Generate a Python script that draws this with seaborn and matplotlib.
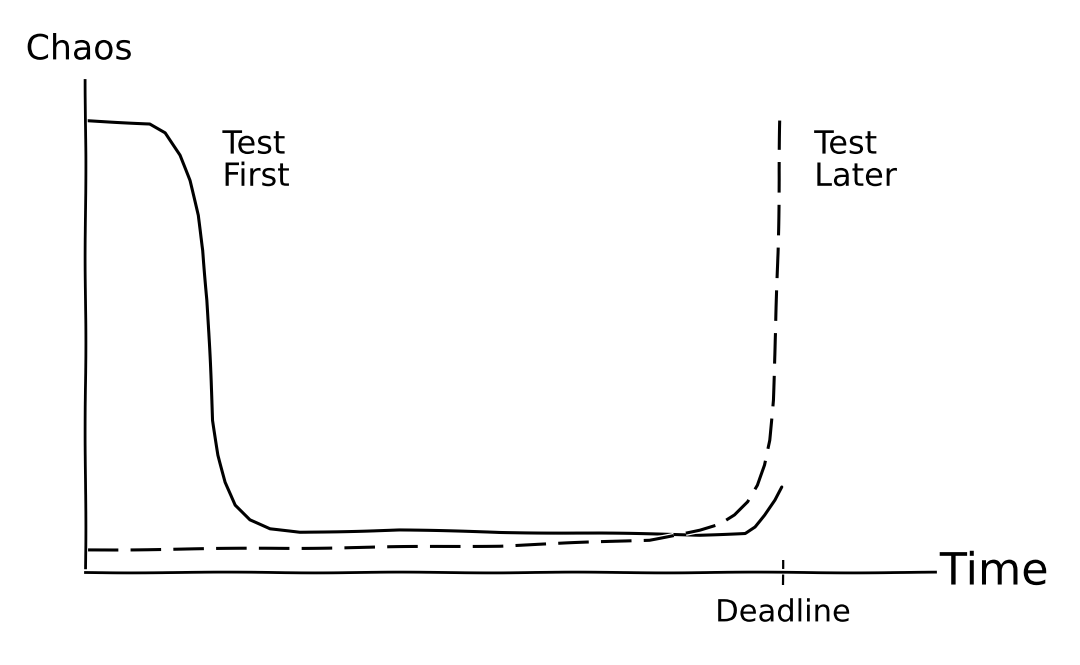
import numpy as np
import pandas as pd
import seaborn as sns
import matplotlib.pyplot as plt

# values (time in arbitrary units, deadline = 10)
first_t = [0.0, 0.93, 1.15, 1.36, 1.50, 1.62, 1.69, 1.75, 1.79, 1.83, 1.91, 2.01, 2.15, 2.36, 2.65,
           3.08, 4.51, 5.95, 7.38, 8.81, 9.46, 9.60, 9.74, 9.89, 9.99]
first_chaos = [10.0, 9.93, 9.73, 9.23, 8.67, 7.90, 7.12, 6.02, 4.69, 3.36, 2.59, 1.99, 1.48, 1.15, 0.95,
               0.88, 0.93, 0.88, 0.86, 0.82, 0.86, 1.0, 1.26, 1.59, 1.88]

later_t = [0.04, 3.08, 5.95, 8.09, 8.81, 9.10, 9.31, 9.50, 9.64, 9.74, 9.81, 9.86, 9.90, 9.93, 9.96]
later_chaos = [0.49, 0.53, 0.58, 0.71, 0.93, 1.06, 1.26, 1.55, 1.92, 2.37, 2.92, 3.81, 5.35, 7.12, 10.0]

deadline = 10
tick_labels = ['Deadline']

first = pd.DataFrame({'time': first_t, 'chaos': first_chaos})
later = pd.DataFrame({'time': later_t, 'chaos': later_chaos})

sns.set_style('white')
plt.xkcd(scale=0.4, length=200, randomness=2)
plt.rcParams['font.family'] = ['DejaVu Sans']
plt.rcParams['text.color'] = 'black'
plt.rcParams['xtick.color'] = 'black'

fig = plt.figure(figsize=(10.8, 6.65), dpi=100)
ax = fig.add_axes([0.0787, 0.1398, 0.787, 0.74])

sns.lineplot(data=first, x='time', y='chaos', color='black', lw=2.2, sort=False, ax=ax)
sns.lineplot(data=later, x='time', y='chaos', color='black', lw=2.2, sort=False,
             linestyle=(0, (10, 4)), ax=ax)
for line in ax.lines:
    line.set_clip_on(False)
    line.set_solid_joinstyle('round')
    line.set_dash_joinstyle('round')

ax.set_xlim(0, 12.18)
ax.set_ylim(0, 10.9)
ax.spines['top'].set_visible(False)
ax.spines['right'].set_visible(False)
ax.spines['left'].set_linewidth(2)
ax.spines['bottom'].set_linewidth(2)
ax.spines['left'].set_color('black')
ax.spines['bottom'].set_color('black')
ax.set_yticks([])
ax.set_xticks([deadline])
ax.set_xticklabels(tick_labels, fontsize=22, color='black')
ax.tick_params(axis='x', bottom=True, direction='inout', length=18, width=1.6, pad=10, color='black')
ax.set_xlabel('')
ax.set_ylabel('')

ax.text(-0.85, 11.2, 'Chaos', fontsize=25, ha='left', va='bottom')
ax.text(12.25, 0.0, 'Time', fontsize=32, ha='left', va='center')
ax.text(1.97, 9.1, 'Test\nFirst', fontsize=23, ha='left', va='center', linespacing=1.05)
ax.text(10.45, 9.1, 'Test\nLater', fontsize=23, ha='left', va='center', linespacing=1.05)

fig.savefig('out.png', dpi=100)
